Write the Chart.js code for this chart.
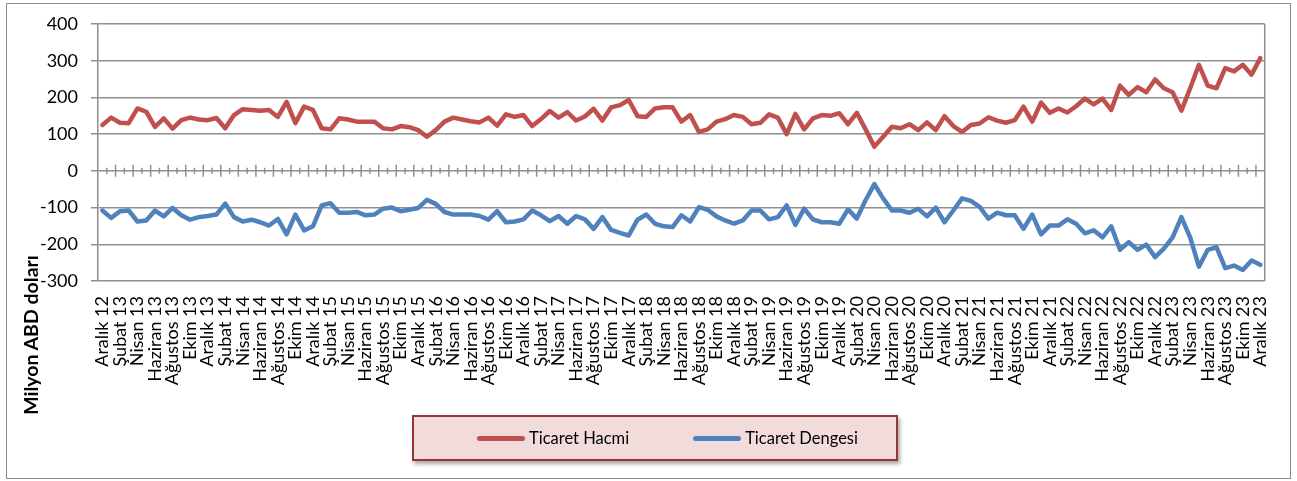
<!DOCTYPE html>
<html>
<head>
<meta charset="utf-8">
<script src="https://cdn.jsdelivr.net/npm/chart.js@4/dist/chart.umd.min.js"></script>
<style>
  html, body { margin: 0; padding: 0; background: #fff; }
  #wrap { position: relative; width: 1297px; height: 481px; overflow: hidden; font-family: Lato, "Open Sans", sans-serif; }
  #c { position: absolute; left: 0; top: 0; }
  #frame { position: absolute; left: 6px; top: 3px; width: 1285px; height: 476px; box-sizing: border-box; border: 1.5px solid #8c8c8c; pointer-events: none; }
  #ytitle { position: absolute; left: 30px; top: 335px; transform: translate(-50%, -50%) rotate(-90deg); white-space: nowrap; font-weight: bold; font-size: 19.5px; color: #000; }
  #legend { position: absolute; left: 412px; top: 415px; width: 486px; height: 46px; box-sizing: border-box; background: #F2DCDB; border: 2.5px solid #953735; box-shadow: 2px 3px 4px rgba(0,0,0,0.35); display: flex; align-items: center; padding-left: 63px; }
  .item { display: flex; align-items: center; font-size: 16.5px; color: #000; }
  .sw { width: 48px; height: 5px; border-radius: 3px; margin-right: 4px; }
</style>
</head>
<body>
<div id="wrap">
  <canvas id="c" width="1297" height="481"></canvas>
  <div id="frame"></div>
  <div id="ytitle">Milyon ABD doları</div>
  <div id="legend"></div>
</div>
<script>
// ---- data ----
const monthNames = ['Ocak','Şubat','Mart','Nisan','Mayıs','Haziran','Temmuz','Ağustos','Eylül','Ekim','Kasım','Aralık'];
const years = ['13','14','15','16','17','18','19','20','21','22','23'];
const firstCategory = 'Aralık 12';
const categories = [firstCategory];
years.forEach(y => monthNames.forEach(m => categories.push(m + ' ' + y)));

const seriesNames = ['Ticaret Hacmi', 'Ticaret Dengesi'];

const ticaretHacmi = [
  125,145,131,130,170,161,120,143,115,138,145,140,138,144,116,152,168,166,164,166,
  147,188,130,175,166,116,113,143,140,134,134,134,116,113,122,119,111,93,111,134,
  145,140,135,132,145,123,154,147,152,122,141,163,145,160,137,148,169,137,173,179,
  193,149,147,170,173,173,134,152,106,113,134,141,152,147,127,131,154,145,100,155,
  113,143,152,150,157,127,158,113,
  66,93,120,116,127,111,132,111,149,122,106,125,129,146,137,131,138,175,134,186,
  158,170,159,176,197,181,197,166,232,207,228,214,249,225,214,164,225,289,232,225,
  280,271,289,262,307
];

const ticaretDengesi = [
  -108,-128,-110,-108,-138,-135,-108,-124,-101,-121,-133,-126,-123,-119,-89,-126,-138,-133,-140,-149,
  -131,-173,-119,-162,-151,-94,-88,-114,-114,-112,-121,-119,-103,-100,-110,-106,-101,-79,-90,-112,
  -119,-119,-119,-123,-133,-110,-140,-138,-132,-108,-121,-137,-123,-144,-123,-132,-158,-126,-161,-169,
  -176,-133,-119,-144,-151,-153,-121,-138,-99,-106,-124,-135,-144,-135,-108,-108,-132,-126,-94,-147,
  -103,-132,-140,-140,-144,-105,-130,-80,
  -36,-75,-108,-108,-114,-103,-124,-100,-140,-108,-75,-82,-98,-130,-114,-121,-121,-158,-119,-173,
  -149,-149,-132,-144,-170,-162,-181,-151,-215,-194,-215,-201,-235,-212,-181,-126,-181,-261,-215,-208,
  -265,-258,-270,-244,-256
];

const yMin = -300, yMax = 400, yStep = 100;

// ---- styles ----
const gridColor = '#8f8f8f';
const tickFont = { family: 'Lato', size: 18 };

const zeroTicks = {
  id: 'zeroTicks',
  beforeDatasetsDraw(chart) {
    const { ctx, chartArea: a, scales: { x, y } } = chart;
    const y0 = y.getPixelForValue(0);
    ctx.save();
    ctx.strokeStyle = gridColor;
    ctx.lineWidth = 1.5;
    ctx.beginPath();
    const n = chart.data.labels.length;
    for (let k = 1; k < n; k++) {
      const px = (x.getPixelForValue(k - 1) + x.getPixelForValue(k)) / 2;
      const h = (k % 2 === 0) ? 6 : 3;
      ctx.moveTo(px, y0 - h);
      ctx.lineTo(px, y0 + h);
    }
    ctx.moveTo(a.right, a.top);
    ctx.lineTo(a.right, a.bottom);
    ctx.stroke();
    ctx.restore();
  }
};

const chart = new Chart(document.getElementById('c'), {
  type: 'line',
  data: {
    labels: categories,
    datasets: [
      { label: seriesNames[0], data: ticaretHacmi, borderColor: '#C0504D', backgroundColor: '#C0504D',
        borderWidth: 4.5, pointRadius: 0, tension: 0, borderJoinStyle: 'round', borderCapStyle: 'round' },
      { label: seriesNames[1], data: ticaretDengesi, borderColor: '#4F81BD', backgroundColor: '#4F81BD',
        borderWidth: 4.5, pointRadius: 0, tension: 0, borderJoinStyle: 'round', borderCapStyle: 'round' }
    ]
  },
  options: {
    responsive: false,
    animation: false,
    layout: { padding: { left: 0, right: 16, top: 24, bottom: 0 } },
    plugins: { legend: { display: false }, title: { display: false }, tooltip: { enabled: false } },
    scales: {
      x: {
        type: 'category',
        offset: true,
        grid: { display: false, drawTicks: false },
        border: { display: false },
        ticks: {
          autoSkip: false, maxRotation: 90, minRotation: 90, padding: 15,
          color: '#000', font: tickFont,
          callback: (v, i) => (i % 2 === 0 ? categories[i] : '')
        },
        afterFit: s => { s.height = 200; }
      },
      y: {
        min: yMin, max: yMax,
        ticks: { stepSize: yStep, padding: 13, color: '#000', font: tickFont },
        grid: { color: gridColor, lineWidth: 1.5, tickLength: 7, drawTicks: true },
        border: { color: gridColor, width: 1.5 },
        afterFit: s => { s.width = 98; }
      }
    }
  },
  plugins: [zeroTicks]
});

// HTML legend built from the datasets
const leg = document.getElementById('legend');
chart.data.datasets.forEach((ds, i) => {
  const it = document.createElement('div');
  it.className = 'item';
  if (i > 0) it.style.marginLeft = '64px';
  const sw = document.createElement('span');
  sw.className = 'sw';
  sw.style.background = ds.borderColor;
  const tx = document.createElement('span');
  tx.textContent = ds.label;
  it.appendChild(sw); it.appendChild(tx);
  leg.appendChild(it);
});
</script>
</body>
</html>
